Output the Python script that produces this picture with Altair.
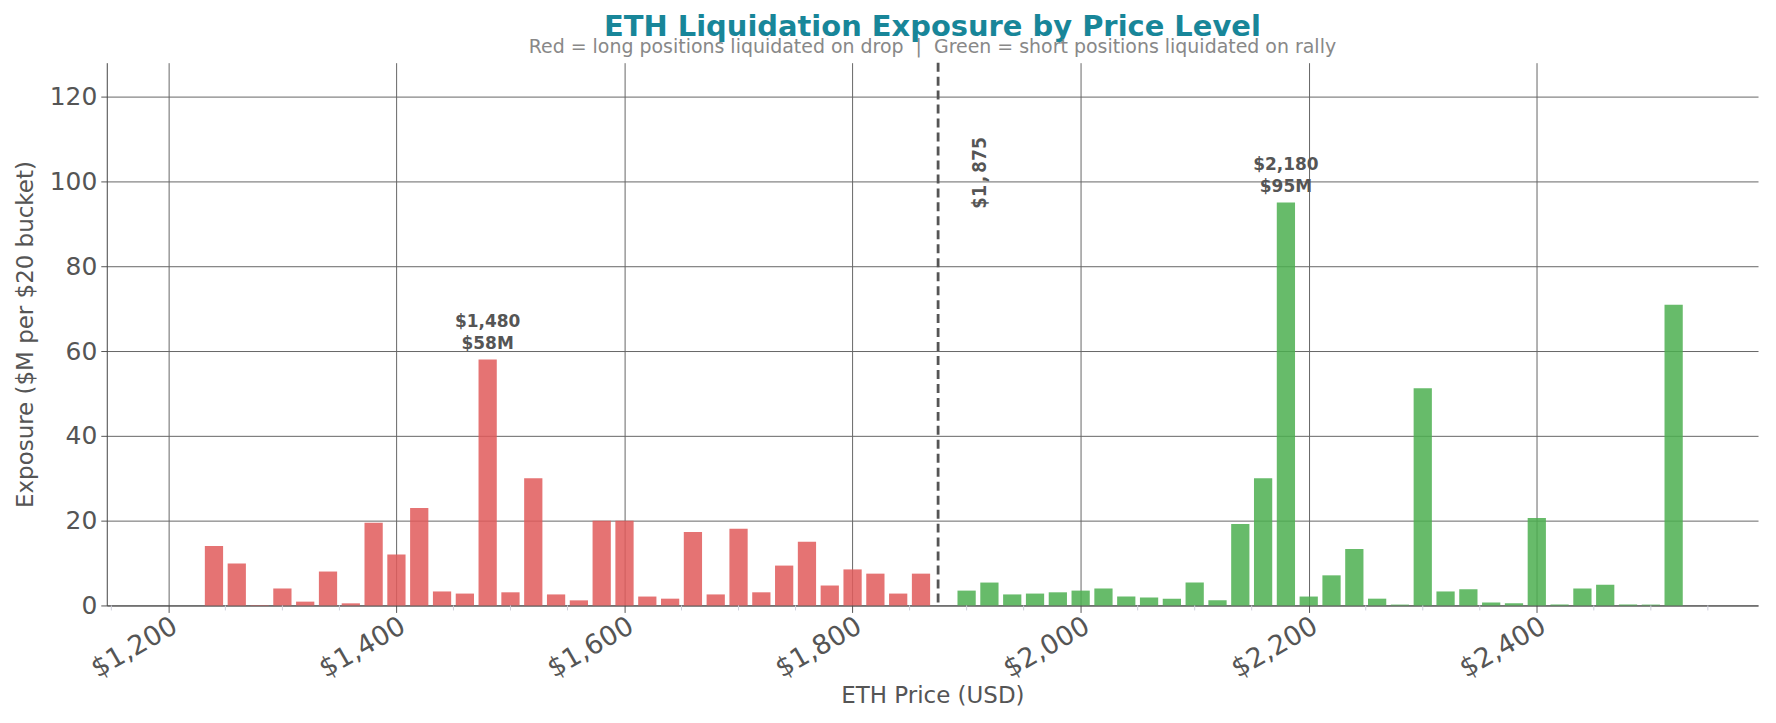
import pandas as pd
import altair as alt

# Long liquidations (below current price) - $20 buckets
long_prices = [1240, 1260, 1280, 1300, 1320, 1340, 1360, 1380, 1400, 1420,
               1440, 1460, 1480, 1500, 1520, 1540, 1560, 1580, 1600, 1620,
               1640, 1660, 1680, 1700, 1720, 1740, 1760, 1780, 1800, 1820,
               1840, 1860]
long_values = [14.0, 9.9, 0.1, 4.0, 0.9, 8.0, 0.5, 19.5, 12.0, 23.0,
               3.3, 2.8, 58.0, 3.1, 30.0, 2.6, 1.2, 20.0, 20.0, 2.1,
               1.6, 17.3, 2.6, 18.1, 3.1, 9.4, 15.0, 4.7, 8.5, 7.5,
               2.8, 7.5]

# Short liquidations (above current price)
short_prices = [1900, 1920, 1940, 1960, 1980, 2000, 2020, 2040, 2060, 2080,
                2100, 2120, 2140, 2160, 2180, 2200, 2220, 2240, 2260, 2280,
                2300, 2320, 2340, 2360, 2380, 2400, 2420, 2440, 2460, 2480,
                2500, 2520]
short_values = [3.5, 5.4, 2.6, 2.8, 3.1, 3.5, 4.0, 2.1, 1.9, 1.6,
                5.4, 1.2, 19.2, 30.0, 95.0, 2.1, 7.1, 13.3, 1.6, 0.2,
                51.2, 3.3, 3.8, 0.7, 0.5, 20.6, 0.2, 4.0, 4.9, 0.2,
                0.2, 70.9]

current_price = 1875
callout_prices = [1480, 2180]
callout_values = [58, 95]

x_ticks = [1200, 1400, 1600, 1800, 2000, 2200, 2400]
minor_ticks = [1150, 1250, 1300, 1350, 1450, 1500, 1550, 1650, 1700, 1750,
               1850, 1900, 1950, 2050, 2100, 2150, 2250, 2300, 2350, 2450,
               2500, 2550]
y_ticks = [0, 20, 40, 60, 80, 100, 120]

RED = "#e05a5a"
GREEN = "#4caf50"
GREY = "#555555"
W, H = 1655, 544

df = pd.DataFrame({
    "price": long_prices + short_prices,
    "value": long_values + short_values,
    "side": ["long"] * len(long_prices) + ["short"] * len(short_prices),
})

df_call = pd.DataFrame({
    "price": callout_prices,
    "value": callout_values,
    "label": ["$" + format(p, ",") + "\n$" + str(v) + "M"
              for p, v in zip(callout_prices, callout_values)],
})
df_now = pd.DataFrame({"price": [current_price], "value": [102],
                       "label": ["$" + format(current_price, ",")]})
df_minor = pd.DataFrame({"price": minor_ticks})

xscale = alt.Scale(domain=[1146, 2594], nice=False, zero=False)
yscale = alt.Scale(domain=[0, 128], nice=False)

x_axis = alt.Axis(values=x_ticks, labelExpr="'$' + format(datum.value, ',')",
                  labelAngle=-30, labelAlign="right", labelBaseline="top",
                  labelFontSize=27, labelColor=GREY, labelPadding=0,
                  labelOverlap=False,
                  title="ETH Price (USD)", titleFontSize=23, titleColor=GREY,
                  titleFontWeight="normal", titlePadding=3,
                  tickColor=GREY, tickSize=7, domainColor="#444",
                  grid=True, gridColor="#666", gridWidth=1)
y_axis = alt.Axis(values=y_ticks, labelFontSize=25, labelColor=GREY,
                  labelPadding=4,
                  title="Exposure ($M per $20 bucket)", titleFontSize=23,
                  titleColor=GREY, titleFontWeight="normal", titlePadding=12,
                  tickColor=GREY, tickSize=6, domainColor="#444",
                  grid=True, gridColor="#666", gridWidth=1)

bars = alt.Chart(df).transform_calculate(
    lo="datum.price - 8", hi="datum.price + 8"
).mark_bar(opacity=0.85).encode(
    x=alt.X("lo:Q", scale=xscale, axis=x_axis),
    x2="hi:Q",
    y=alt.Y("value:Q", scale=yscale, axis=y_axis),
    y2=alt.datum(0),
    color=alt.Color("side:N", scale=alt.Scale(domain=["long", "short"],
                                              range=[RED, GREEN]), legend=None),
)

now_line = alt.Chart(df_now).mark_rule(
    color=GREY, strokeWidth=2.8, strokeDash=[9, 5]
).encode(x="price:Q")

now_label = alt.Chart(df_now).transform_calculate(
    lx="datum.price + 37"
).mark_text(angle=270, fontSize=20, fontWeight="bold", color=GREY,
            font="DejaVu Sans Mono", align="center", baseline="middle").encode(
    x="lx:Q", y="value:Q", text="label:N")

callouts = alt.Chart(df_call).mark_text(
    fontSize=17, fontWeight="bold", color=GREY, align="center",
    baseline="bottom", lineBreak="\n", lineHeight=22, dy=-29
).encode(x="price:Q", y="value:Q", text="label:N")

minor = alt.Chart(df_minor).mark_rule(color="#cfd0dc", strokeWidth=1).encode(
    x="price:Q", y=alt.value(H), y2=alt.value(H + 5))

chart = alt.layer(bars, now_line, now_label, callouts, minor).properties(
    width=W, height=H,
    autosize=alt.AutoSizeParams(type="none"),
    padding={"left": 99, "top": 54, "right": 10, "bottom": 112},
    title=alt.TitleParams(
        "ETH Liquidation Exposure by Price Level",
        subtitle="Red = long positions liquidated on drop \u00a0|\u00a0 Green = short positions liquidated on rally",
        fontSize=29, fontWeight="bold", color="#188699",
        subtitleFontSize=19, subtitleColor="#888888", subtitlePadding=-4,
        anchor="middle", offset=4,
    ),
).configure(font="DejaVu Sans").configure_view(strokeWidth=0)

chart.save("out.html", embed_options={"renderer": "svg", "actions": False})
